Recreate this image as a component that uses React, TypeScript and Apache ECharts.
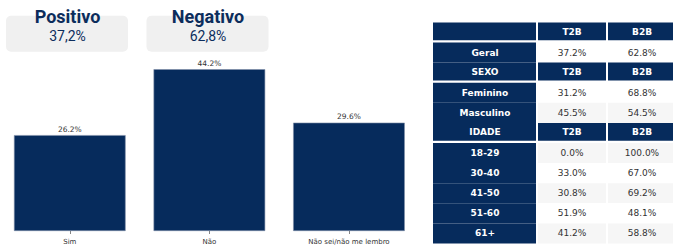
import React, { useEffect, useRef } from "react";
import * as echarts from "echarts";

const categories = ["Sim", "Não", "Não sei/não me lembro"];
const values = [26.2, 44.2, 29.6];

const summaryTitles = ["Positivo", "Negativo"];
const summaryValues = ["37,2%", "62,8%"];

const rowLabels = ["", "Geral", "SEXO", "Feminino", "Masculino", "IDADE", "18-29", "30-40", "41-50", "51-60", "61+"];
const t2bColumn = ["T2B", "37.2%", "T2B", "31.2%", "45.5%", "T2B", "0.0%", "33.0%", "30.8%", "51.9%", "41.2%"];
const b2bColumn = ["B2B", "62.8%", "B2B", "68.8%", "54.5%", "B2B", "100.0%", "67.0%", "69.2%", "48.1%", "58.8%"];
const headerRows = [0, 2, 5];

const NAVY = "#062b5c";
const TITLE = "#0c2d5c";

function buildGraphics() {
  const g: any[] = [];
  const boxX = [6, 146.5];
  summaryTitles.forEach((t, i) => {
    const x = boxX[i];
    g.push({
      type: "rect",
      shape: { x, y: 15.7, width: 122, height: 36, r: 5 },
      style: { fill: "#f0f0f0" },
      z: 1,
    });
    g.push({
      type: "text",
      x: x + 61.5,
      y: 16.5,
      style: {
        text: t,
        fill: TITLE,
        fontSize: 18,
        fontWeight: "bold",
        fontFamily: "Roboto",
        align: "center",
        verticalAlign: "middle",
      },
      z: 2,
    });
    g.push({
      type: "text",
      x: x + 61.5,
      y: 36,
      style: {
        text: summaryValues[i],
        fill: TITLE,
        fontSize: 14,
        fontFamily: "Roboto",
        align: "center",
        verticalAlign: "middle",
      },
      z: 2,
    });
  });

  const colX = [433, 537, 607, 677];
  const top = 22.4;
  const rh = 20.1;
  const cols = [rowLabels, t2bColumn, b2bColumn];
  rowLabels.forEach((_, r) => {
    const isHeader = headerRows.indexOf(r) >= 0;
    const y0 = top + r * rh;
    const h = isHeader ? rh - 2.2 : rh;
    cols.forEach((col, c) => {
      const x0 = colX[c] + (c === 0 ? 0 : 1);
      const x1 = colX[c + 1] - 1;
      const navy = c === 0 || isHeader;
      const fill = navy ? NAVY : r % 2 === 0 ? "#f6f6f6" : "#ffffff";
      g.push({
        type: "rect",
        shape: { x: x0, y: y0, width: x1 - x0, height: h },
        style: { fill },
        z: 1,
      });
      g.push({
        type: "text",
        x: (colX[c] + colX[c + 1]) / 2,
        y: y0 + rh / 2 - (isHeader ? 0.5 : 0),
        style: {
          text: col[r],
          fill: navy ? "#ffffff" : "#333333",
          fontSize: 9,
          fontWeight: navy ? "bold" : "normal",
          fontFamily: "DejaVu Sans",
          align: "center",
          verticalAlign: "middle",
        },
        z: 2,
      });
    });
  });
  return g;
}

export default function App() {
  const ref = useRef<HTMLDivElement>(null);
  useEffect(() => {
    if (!ref.current) return;
    const chart = echarts.init(ref.current, null, { renderer: "svg" });
    chart.setOption({
      animation: false,
      grid: { left: -2.75, width: 421.5, top: 48, bottom: 7.5 },
      xAxis: {
        type: "category",
        data: categories,
        axisLine: { show: false },
        axisTick: { show: true, alignWithLabel: true, length: 3, lineStyle: { color: "#666", width: 0.8 } },
        axisLabel: { fontSize: 7, color: "#333", margin: 7, fontFamily: "DejaVu Sans" },
      },
      yAxis: { type: "value", min: 0, max: 50, show: false, splitLine: { show: false } },
      series: [
        {
          type: "bar",
          data: values,
          barWidth: "80%",
          itemStyle: { color: NAVY, borderColor: "#7f8fa8", borderWidth: 0.6 },
          label: {
            show: true,
            position: "top",
            distance: 2,
            formatter: (p: any) => p.value.toFixed(1) + "%",
            fontSize: 7.5,
            color: "#333",
            fontFamily: "DejaVu Sans",
          },
        },
      ],
      graphic: buildGraphics(),
    });
    return () => chart.dispose();
  }, []);
  return (
    <div
      ref={ref}
      style={{ position: "fixed", left: 0, top: 0, width: 673, height: 245, background: "#fff" }}
    />
  );
}
